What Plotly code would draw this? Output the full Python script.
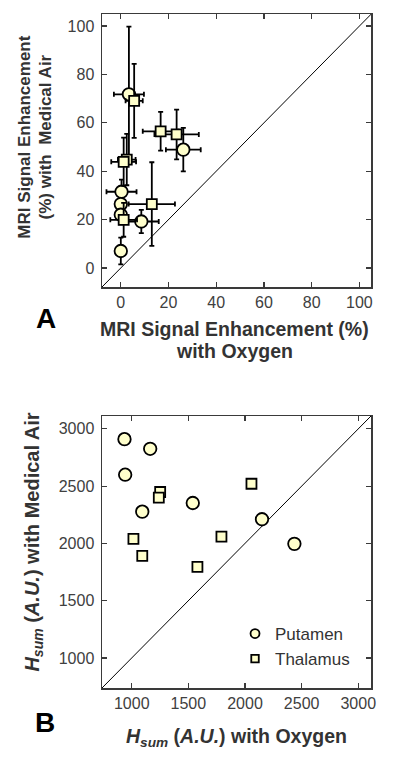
import plotly.graph_objects as go

# ---------------- Data: panel A (MRI signal enhancement, %) ----------------
a_put_x = [3.4, 26.2, 0.3, 0.0, 0.0, 8.6, 0.0]
a_put_y = [71.8, 48.9, 31.5, 26.4, 22.0, 19.2, 7.0]
a_put_xerr = [6.3, 7.3, 6.3, 1.5, 1.5, 7.3, 1.0]
a_put_yerr = [28.0, 9.0, 5.0, 4.0, 4.0, 4.8, 5.5]

a_tha_x = [5.6, 16.7, 23.4, 2.5, 1.2, 13.0, 1.2]
a_tha_y = [69.1, 56.5, 55.2, 44.8, 43.9, 26.4, 19.9]
a_tha_xerr = [3.6, 7.5, 9.3, 3.7, 5.2, 9.7, 5.6]
a_tha_yerr = [15.3, 8.0, 10.3, 10.6, 10.0, 17.3, 7.0]

# ---------------- Data: panel B (Hsum, A.U.) ----------------
b_put_x = [936, 1163, 942, 1539, 1093, 2150, 2436]
b_put_y = [2910, 2826, 2600, 2353, 2277, 2211, 1996]
b_tha_x = [1251, 1239, 2057, 1015, 1792, 1093, 1580]
b_tha_y = [2449, 2399, 2521, 2039, 2059, 1891, 1795]

a_ticks = [0, 20, 40, 60, 80, 100]
b_ticks = [1000, 1500, 2000, 2500, 3000]
a_range = [-8, 105]
b_range = [735, 3115]

series_names = ["Putamen", "Thalamus"]

FILL = "#ffffcc"
FONT = "Liberation Sans, Arial, sans-serif"
TXT = "#333333"
W, H = 400, 757

def px_x(p):
    return p / W

def px_y(p):
    return 1 - p / H

fig = go.Figure()

def err(arr):
    return dict(type="data", array=arr, visible=True, color="black",
                thickness=1.8, width=2.5)

# Panel A traces
fig.add_trace(go.Scatter(
    x=a_put_x, y=a_put_y, mode="markers", name=series_names[0],
    error_x=err(a_put_xerr), error_y=err(a_put_yerr),
    marker=dict(symbol="circle", size=12.5, color=FILL,
                line=dict(color="black", width=1.8)),
    showlegend=False, xaxis="x", yaxis="y"))
fig.add_trace(go.Scatter(
    x=a_tha_x, y=a_tha_y, mode="markers", name=series_names[1],
    error_x=err(a_tha_xerr), error_y=err(a_tha_yerr),
    marker=dict(symbol="square", size=10, color=FILL,
                line=dict(color="black", width=1.8)),
    showlegend=False, xaxis="x", yaxis="y"))

# Panel B traces
fig.add_trace(go.Scatter(
    x=b_put_x, y=b_put_y, mode="markers", name=series_names[0],
    marker=dict(symbol="circle", size=12.5, color=FILL,
                line=dict(color="black", width=1.8)),
    showlegend=False, xaxis="x2", yaxis="y2"))
fig.add_trace(go.Scatter(
    x=b_tha_x, y=b_tha_y, mode="markers", name=series_names[1],
    marker=dict(symbol="square", size=10, color=FILL,
                line=dict(color="black", width=1.8)),
    showlegend=False, xaxis="x2", yaxis="y2"))

# Legend-only entries (smaller symbols, as in the reference legend)
fig.add_trace(go.Scatter(
    x=[None], y=[None], mode="markers", name=series_names[0],
    marker=dict(symbol="circle", size=9, color=FILL,
                line=dict(color="black", width=1.8)),
    xaxis="x2", yaxis="y2"))
fig.add_trace(go.Scatter(
    x=[None], y=[None], mode="markers", name=series_names[1],
    marker=dict(symbol="square", size=7.5, color=FILL,
                line=dict(color="black", width=1.8)),
    xaxis="x2", yaxis="y2"))

# Identity lines
fig.add_shape(type="line", xref="x", yref="y",
              x0=a_range[0], y0=a_range[0], x1=a_range[1], y1=a_range[1],
              line=dict(color="black", width=1), layer="below")
fig.add_shape(type="line", xref="x2", yref="y2",
              x0=b_range[0], y0=b_range[0], x1=b_range[1], y1=b_range[1],
              line=dict(color="black", width=1), layer="below")

axis_common = dict(
    showgrid=False, zeroline=False, showline=True, mirror="ticks",
    linecolor="#3a3a3a", linewidth=1.2, ticks="inside", ticklen=5,
    tickcolor="#3a3a3a", tickwidth=1.2,
    tickfont=dict(family=FONT, size=16, color="#404040"),
)

dom_x = [px_x(103), px_x(376)]
fig.update_layout(
    width=W, height=H,
    margin=dict(l=0, r=0, t=0, b=0),
    paper_bgcolor="white", plot_bgcolor="white",
    font=dict(family=FONT, color=TXT),
    xaxis=dict(domain=dom_x, range=a_range, tickvals=a_ticks,
               anchor="y", **axis_common),
    yaxis=dict(domain=[px_y(287.3), px_y(14)], range=a_range,
               tickvals=a_ticks, anchor="x", ticklabelstandoff=3,
               **axis_common),
    xaxis2=dict(domain=dom_x, range=b_range, tickvals=b_ticks,
                anchor="y2", **axis_common),
    yaxis2=dict(domain=[px_y(688.3), px_y(415.7)], range=b_range,
                tickvals=b_ticks, anchor="x2", ticklabelstandoff=3,
                **axis_common),
    legend=dict(x=px_x(238), y=px_y(616), xanchor="left", yanchor="top",
                bgcolor="rgba(0,0,0,0)",
                font=dict(family=FONT, size=17, color=TXT),
                tracegroupgap=0),
)

def ann(text, x, y, size, angle=0, color=TXT):
    fig.add_annotation(text=text, xref="paper", yref="paper",
                       x=px_x(x), y=px_y(y), xanchor="center",
                       yanchor="middle", showarrow=False, textangle=angle,
                       font=dict(family=FONT, size=size, color=color))

# Panel A titles
ann("<b>MRI Signal Enhancement (%)</b>", 237, 329, 19.5)
ann("<b>with Oxygen</b>", 237, 351, 19.5)
ann("<b>MRI Signal Enhancement</b>", 24, 137, 17, angle=-90)
ann("<b>(%) with  Medical Air</b>", 46, 137, 17, angle=-90)
ann("<b>A</b>", 46.5, 318, 28, color="black")

# Panel B titles
ann("<b><i>H</i><sub><i>sum</i></sub> (<i>A.U.</i>) with Oxygen</b>",
    239, 737, 19.5)
ann("<b><i>H</i><sub><i>sum</i></sub> (<i>A.U.</i>) with Medical Air</b>",
    33, 542, 20, angle=-90)
ann("<b>B</b>", 46, 722, 28, color="black")

fig.write_html("out.html",
               config={"displayModeBar": False, "staticPlot": True},
               post_script="document.body.style.margin='0';"
                           "document.body.style.overflow='hidden';")
